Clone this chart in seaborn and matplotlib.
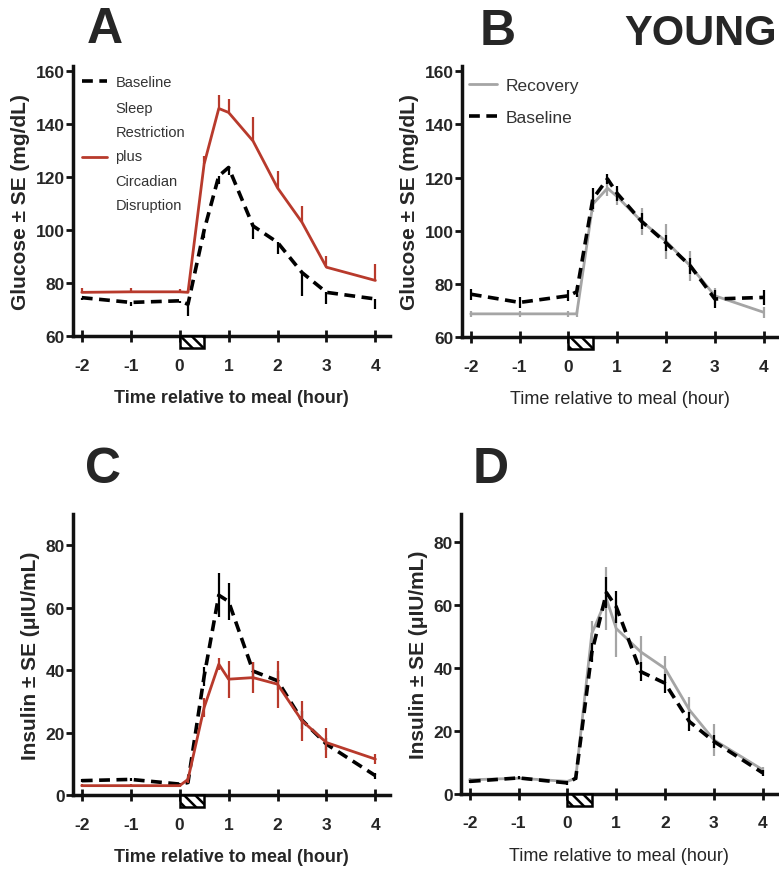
import matplotlib
matplotlib.use('Agg')
import matplotlib.pyplot as plt
import matplotlib.transforms as mtransforms
from matplotlib.patches import Rectangle
import seaborn as sns

# time points (hours relative to meal)
hours = [-2, -1, 0, 0.17, 0.5, 0.8, 1, 1.5, 2, 2.5, 3, 4]

# A: glucose, baseline vs sleep restriction + circadian disruption
glu_base_A = [74.5, 72.7, 73.3, 72, 100, 120.5, 123.7, 101.6, 95.4, 84, 76.5, 74]
glu_base_A_se = [1, 1.5, 1, 4.5, 3, 3, 3, 5, 4.4, 8.8, 4.5, 3.8]
glu_srcd_A = [76.5, 76.7, 76.7, 76.5, 125, 146, 144.5, 133.7, 116, 103, 86, 81]
glu_srcd_A_se = [1.5, 1.5, 1, 1, 3, 5, 5, 9, 6.4, 6, 4.4, 6.3]

# B: glucose, recovery vs baseline
glu_rec_B = [68.7, 68.7, 68.7, 68.7, 110, 116, 112.8, 103.5, 96, 86.7, 75.5, 69.3]
glu_rec_B_se = [1, 1, 1, 1, 3, 3, 3, 5, 6.5, 5.6, 3, 2]
glu_base_B = [76.1, 73, 75.5, 77, 112, 119.5, 114, 103.5, 95.4, 86.7, 74.3, 74.9]
glu_base_B_se = [2, 2, 2, 2, 4, 2, 3, 3, 3, 3, 3.5, 2.8]

# C: insulin, baseline vs sleep restriction + circadian disruption
ins_base_C = [4.6, 5, 3.5, 4, 38, 64, 62, 39.7, 36.6, 24, 16.3, 6.2]
ins_base_C_se = [0.5, 0.5, 0.5, 0.5, 3, 7, 6, 3, 3, 3, 2, 1]
ins_srcd_C = [3, 3, 3, 5, 28, 41.9, 37.1, 37.6, 35.5, 23.8, 16.8, 11.5]
ins_srcd_C_se = [0.5, 0.5, 0.5, 1, 3, 2, 5.9, 5, 7.5, 6.4, 4.8, 1.5]

# D: insulin, recovery vs baseline
ins_rec_D = [4.5, 5, 4, 5, 51, 62, 52.6, 45.2, 39.9, 26.7, 17.2, 7.7]
ins_rec_D_se = [0.5, 0.5, 0.5, 0.5, 4, 10, 9, 5, 4, 4, 5, 1]
ins_base_D = [4.0, 5.1, 3.5, 5, 45, 64, 59.5, 38.9, 35.2, 23, 16.7, 6.7]
ins_base_D_se = [0.5, 0.5, 0.5, 0.5, 3, 5, 5, 3, 3, 3, 2, 1]

xticks = [-2, -1, 0, 1, 2, 3, 4]
glu_ticks = [60, 80, 100, 120, 140, 160]
ins_ticks = [0, 20, 40, 60, 80]

RED = '#b83a2c'
GRAY = '#a5a5a5'
DASH = (0, (3, 1.8))

sns.set_style('ticks')
fam = ['Liberation Sans', 'DejaVu Sans']
plt.rcParams['font.family'] = fam
plt.rcParams['hatch.linewidth'] = 1.8
plt.rcParams['axes.unicode_minus'] = False

fig = plt.figure(figsize=(7.79, 8.79), dpi=100)
axA = fig.add_axes([0.0937, 0.6166, 0.407, 0.307])
axB = fig.add_axes([0.5931, 0.6155, 0.406, 0.3083])
axC = fig.add_axes([0.0937, 0.0944, 0.407, 0.3197])
axD = fig.add_axes([0.5918, 0.0956, 0.406, 0.3185])


def draw(ax, y, se, color, dashed, lw, label, side='both'):
    ls = DASH if dashed else '-'
    sns.lineplot(x=hours, y=y, ax=ax, color=color, lw=lw, linestyle=ls,
                 label=label, legend=False)
    lo = [0] * len(se) if side == 'up' else se
    hi = [0] * len(se) if side == 'down' else se
    ax.errorbar(hours, y, yerr=[lo, hi], fmt='none', ecolor=color,
                elinewidth=1.6, capsize=0)


def style(ax, ylim, yticks, ylabel, bold_x):
    ax.set_xlim(-2.18, 4.3)
    ax.set_ylim(*ylim)
    ax.set_xticks(xticks)
    ax.set_yticks(yticks)
    sns.despine(ax=ax)
    for s in ['left', 'bottom']:
        ax.spines[s].set_linewidth(2.5)
        ax.spines[s].set_color('#111111')
    ax.tick_params(axis='y', direction='out', length=5, width=2, pad=1,
                   labelsize=12.5, color='#111111')
    ax.tick_params(axis='x', direction='inout', length=9, width=2, pad=11,
                   labelsize=12.5, color='#111111')
    for lbl in ax.get_xticklabels() + ax.get_yticklabels():
        lbl.set_fontweight('bold')
    ax.set_xlabel('Time relative to meal (hour)', fontsize=13,
                  fontweight='bold' if bold_x else 'normal', labelpad=12)
    ax.set_ylabel(ylabel, fontsize=15, fontweight='bold', labelpad=4)
    # meal box under the axis
    trans = mtransforms.blended_transform_factory(ax.transData, ax.transAxes)
    h = 12 / (ax.get_position().height * 879)
    ax.add_patch(Rectangle((0, -h), 0.5, h, transform=trans, clip_on=False,
                           facecolor='white', edgecolor='black', lw=1.8,
                           hatch='\\\\\\', zorder=5))


# A
draw(axA, glu_base_A, glu_base_A_se, 'black', True, 2.6, 'Baseline', 'down')
draw(axA, glu_srcd_A, glu_srcd_A_se, RED, False, 2.0,
     'Sleep\nRestriction\nplus\nCircadian\nDisruption', 'up')
style(axA, (60, 162), glu_ticks, 'Glucose ± SE (mg/dL)', True)
legA = axA.legend(loc='upper left', bbox_to_anchor=(0.0, 1.0), frameon=False,
                  fontsize=10.5, handlelength=1.7, handletextpad=0.6,
                  labelspacing=0.8, borderaxespad=0.2)
for t in legA.get_texts():
    t.set_color('#333333')
    t.set_linespacing(1.95)

# B
draw(axB, glu_rec_B, glu_rec_B_se, GRAY, False, 2.0, 'Recovery')
draw(axB, glu_base_B, glu_base_B_se, 'black', True, 2.6, 'Baseline')
style(axB, (60, 162), glu_ticks, 'Glucose ± SE (mg/dL)', False)
legB = axB.legend(loc='upper left', bbox_to_anchor=(0.0, 0.982), frameon=False,
                  fontsize=12.5, handlelength=1.6, handletextpad=0.5,
                  labelspacing=0.95, borderaxespad=0.0)
for t in legB.get_texts():
    t.set_color('#333333')

# C
draw(axC, ins_base_C, ins_base_C_se, 'black', True, 2.6, None)
draw(axC, ins_srcd_C, ins_srcd_C_se, RED, False, 2.0, None)
style(axC, (0, 90), ins_ticks, 'Insulin ± SE (μIU/mL)', True)

# D
draw(axD, ins_rec_D, ins_rec_D_se, GRAY, False, 2.0, None)
draw(axD, ins_base_D, ins_base_D_se, 'black', True, 2.6, None)
style(axD, (0, 89), ins_ticks, 'Insulin ± SE (μIU/mL)', False)

# panel letters
for x, y, s in [(0.1117, 0.951, 'A'), (0.616, 0.949, 'B'),
                (0.109, 0.4505, 'C'), (0.607, 0.4505, 'D')]:
    fig.text(x, y, s, fontsize=36, fontweight='bold', va='baseline')
fig.text(0.997, 0.949, 'YOUNG', fontsize=30, fontweight='bold',
         va='baseline', ha='right')

fig.savefig('out.png', dpi=100)
